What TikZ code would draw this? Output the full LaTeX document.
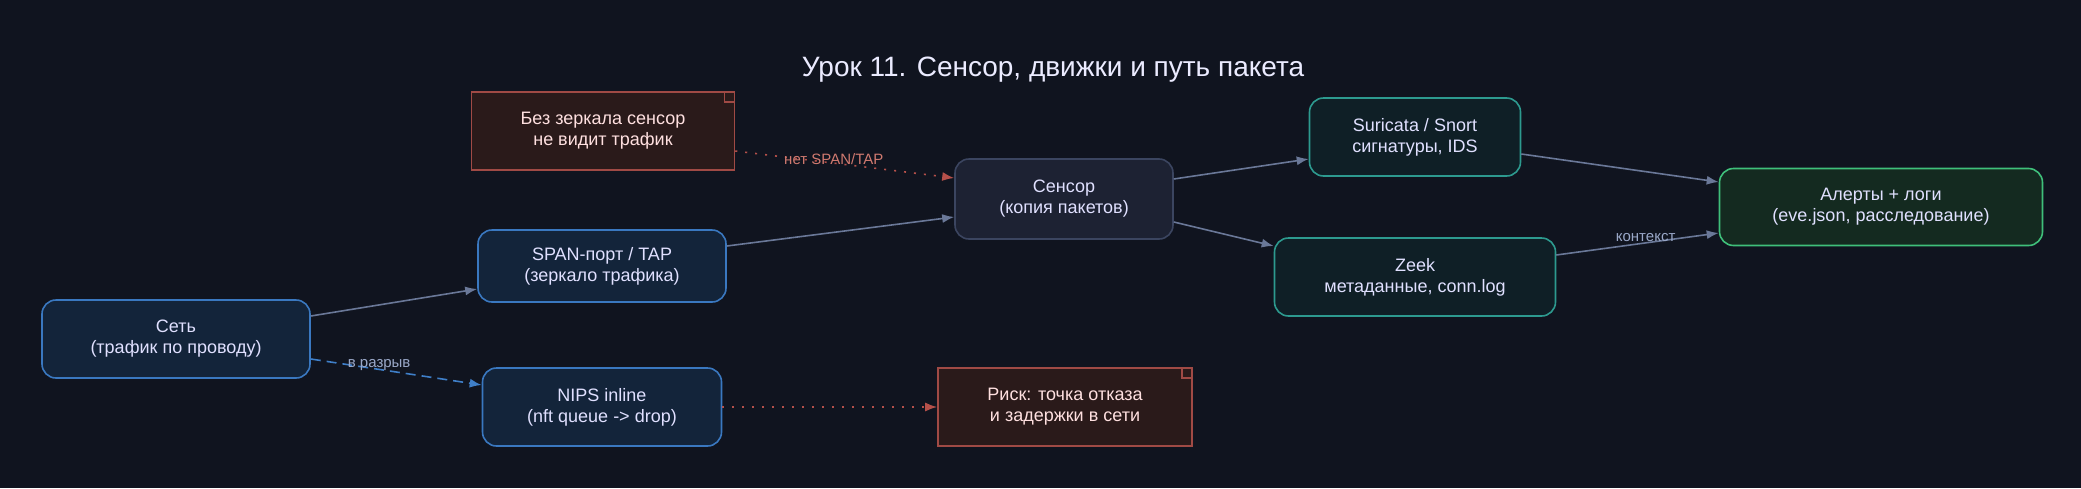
\documentclass[tikz,border=0pt]{standalone}
\usepackage{fontspec}
\setmainfont{Liberation Sans}
\usetikzlibrary{arrows.meta}
\definecolor{bg}{HTML}{10141F}
\definecolor{edge}{HTML}{6A7898}
\definecolor{lbl}{HTML}{9AA8C8}
\definecolor{bfill}{HTML}{13243A}\definecolor{bdraw}{HTML}{3A78C0}
\definecolor{tfill}{HTML}{0F1F26}\definecolor{tdraw}{HTML}{2D9A8F}
\definecolor{nfill}{HTML}{2A1A1A}\definecolor{ndraw}{HTML}{A04A45}
\definecolor{sfill}{HTML}{1D2233}\definecolor{sdraw}{HTML}{3B4560}
\definecolor{gfill}{HTML}{142A20}\definecolor{gdraw}{HTML}{3FBF7A}
\definecolor{dblue}{HTML}{3F7FC8}\definecolor{dred}{HTML}{B5504A}\definecolor{rlbl}{HTML}{D07A70}
\begin{document}
\begin{tikzpicture}[x=1pt,y=-1pt,
 box/.style={draw,rounded corners=14pt,line width=1.6pt,align=center,font=\fontsize{18}{21}\selectfont,text=white!88!blue,inner sep=0pt},
 blue/.style={box,fill=bfill,draw=bdraw},
 teal/.style={box,fill=tfill,draw=tdraw},
 note/.style={draw=ndraw,fill=nfill,line width=1.6pt,align=center,font=\fontsize{18}{21}\selectfont,text=white!88!red,inner sep=0pt,
   path picture={\draw[ndraw,line width=1.6pt] ([xshift=-10pt]path picture bounding box.north east)--++(0,-10pt)--++(10pt,0);}},
 e/.style={draw=edge,line width=1.6pt,-{Latex[length=12pt,width=9pt]}},
 lab/.style={font=\fontsize{15}{17}\selectfont,text=lbl}]
\fill[bg] (0,0) rectangle (2081,488);
\useasboundingbox (0,0) rectangle (2081,488);
\node[font=\fontsize{28}{32}\selectfont,text=white!92!blue] at (1053,70) {Урок 11. Сенсор, движки и путь пакета};
\node[blue,minimum width=268pt,minimum height=78pt] (net) at (176,339) {Сеть\\(трафик по проводу)};
\node[blue,minimum width=248pt,minimum height=72pt] (span) at (602,266) {SPAN-порт / TAP\\(зеркало трафика)};
\node[blue,minimum width=239pt,minimum height=78pt] (nips) at (602,407) {NIPS inline\\(nft queue -> drop)};
\node[note,minimum width=263pt,minimum height=78pt] (n1) at (603,131) {Без зеркала сенсор\\не видит трафик};
\node[box,fill=sfill,draw=sdraw,minimum width=218pt,minimum height=80pt] (sen) at (1064,199) {Сенсор\\(копия пакетов)};
\node[note,minimum width=254pt,minimum height=78pt] (risk) at (1065,407) {Риск: точка отказа\\и задержки в сети};
\node[teal,minimum width=211pt,minimum height=78pt] (sur) at (1415,137) {Suricata / Snort\\сигнатуры, IDS};
\node[teal,minimum width=281pt,minimum height=78pt] (zeek) at (1415,277) {Zeek\\метаданные, conn.log};
\node[box,fill=gfill,draw=gdraw,minimum width=323pt,minimum height=77pt] (al) at (1881,207) {Алерты + логи\\(eve.json, расследование)};
\draw[e] ([yshift=23pt]net.east) -- ([yshift=-23pt]span.west);
\draw[e] ([yshift=20pt]span.east) -- ([yshift=-18pt]sen.west);
\draw[e] ([yshift=20pt]sen.east) -- ([yshift=-22pt]sur.west);
\draw[e] ([yshift=-23pt]sen.east) -- ([yshift=31pt]zeek.west);
\draw[e] ([yshift=-17pt]sur.east) -- ([yshift=25pt]al.west);
\draw[e] ([yshift=22pt]zeek.east) -- node[lab,above,pos=0.55,yshift=-3pt]{контекст} ([yshift=-26pt]al.west);
\draw[e,draw=dblue,dash pattern=on 10pt off 6pt] ([yshift=-20pt]net.east) -- node[lab,above,pos=0.4,yshift=-5pt]{в разрыв} ([yshift=22pt]nips.west);
\draw[e,draw=dred,dash pattern=on 2pt off 8pt] ([yshift=-20pt]n1.east) -- node[lab,text=rlbl,above,pos=0.45,yshift=-6pt]{нет SPAN/TAP} ([yshift=21pt]sen.west);
\draw[e,draw=dred,dash pattern=on 2pt off 8pt] (nips.east) -- (risk.west);
\end{tikzpicture}
\end{document}
